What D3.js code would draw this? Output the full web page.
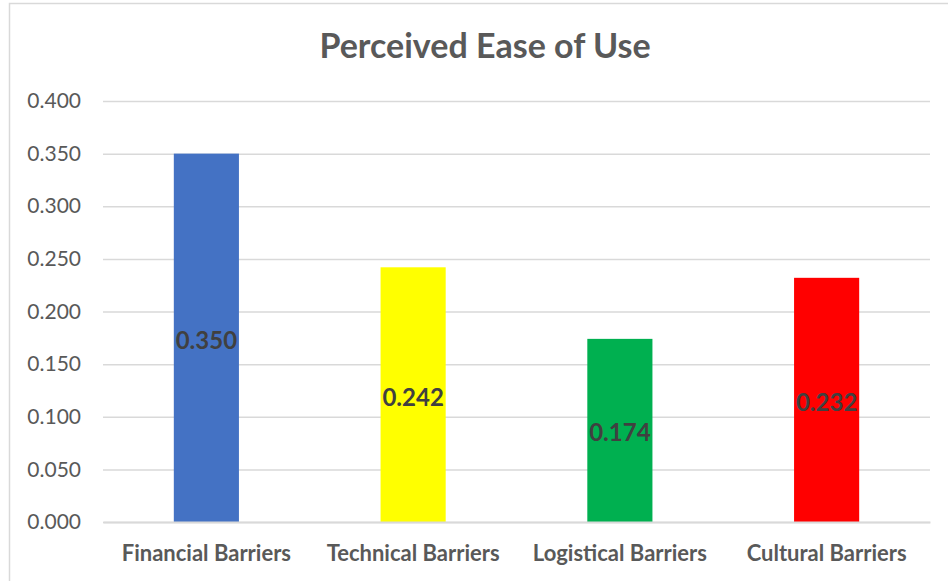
<!DOCTYPE html>
<html>
<head>
<meta charset="utf-8">
<script src="https://cdn.jsdelivr.net/npm/d3@7"></script>
<style>
  html, body { margin: 0; padding: 0; background: #ffffff; }
  svg { display: block; }
  text { font-family: Lato, "Open Sans", "Liberation Sans", sans-serif; }
</style>
</head>
<body>
<svg id="chart" width="948" height="581"></svg>
<script>
// Chart data
const title = "Perceived Ease of Use";
const categories = ["Financial Barriers", "Technical Barriers", "Logistical Barriers", "Cultural Barriers"];
const values = [0.350, 0.242, 0.174, 0.232];
const barColors = ["#4472C4", "#FFFF00", "#00B050", "#FF0000"];
const yTicks = [0, 0.05, 0.1, 0.15, 0.2, 0.25, 0.3, 0.35, 0.4];

const svg = d3.select("#chart");
const W = 948, H = 581;
const plot = { left: 103, right: 930, top: 101, bottom: 522 };

// Chart area frame (top and left edges visible)
svg.append("rect")
  .attr("x", 9.5).attr("y", 3.5)
  .attr("width", W + 20).attr("height", H + 20)
  .attr("fill", "#ffffff")
  .attr("stroke", "#d9d9d9").attr("stroke-width", 1.5);

const x = d3.scaleBand()
  .domain(categories)
  .range([plot.left, plot.right])
  .paddingInner(0.685)
  .paddingOuter(0.3425);

const y = d3.scaleLinear()
  .domain([0, 0.4])
  .range([plot.bottom, plot.top]);

// Horizontal gridlines and value axis labels
const yAxis = d3.axisLeft(y)
  .tickValues(yTicks)
  .tickFormat(d3.format(".3f"))
  .tickSize(-(plot.right - plot.left))
  .tickPadding(22);

const gy = svg.append("g")
  .attr("transform", `translate(${plot.left},0)`)
  .call(yAxis);
gy.select(".domain").remove();
gy.selectAll(".tick line")
  .attr("stroke", "#d9d9d9")
  .attr("stroke-width", 1.5);
gy.selectAll(".tick text")
  .attr("fill", "#595959")
  .style("font-size", "21px")
  .style("font-family", "Lato, 'Open Sans', sans-serif");

// Bars
svg.append("g").selectAll("rect")
  .data(values)
  .join("rect")
  .attr("x", (d, i) => x(categories[i]))
  .attr("y", d => y(d))
  .attr("width", x.bandwidth())
  .attr("height", d => y(0) - y(d))
  .attr("fill", (d, i) => barColors[i]);

// Category axis
const xAxis = d3.axisBottom(x).tickSize(0).tickPadding(23);
const gx = svg.append("g")
  .attr("transform", `translate(0,${plot.bottom})`)
  .call(xAxis);
gx.select(".domain")
  .attr("stroke", "#d9d9d9")
  .attr("stroke-width", 2);
gx.selectAll(".tick text")
  .attr("fill", "#595959")
  .style("font-size", "22px")
  .style("font-weight", "bold")
  .style("font-family", "Lato, 'Open Sans', sans-serif");

// Value labels centred in each bar
svg.append("g").selectAll("text")
  .data(values)
  .join("text")
  .attr("x", (d, i) => x(categories[i]) + x.bandwidth() / 2)
  .attr("y", d => (y(d) + y(0)) / 2)
  .attr("dy", "0.46em")
  .attr("text-anchor", "middle")
  .attr("fill", "#404040")
  .style("font-size", "24px")
  .style("font-weight", "bold")
  .text(d => d3.format(".3f")(d));

// Title
svg.append("text")
  .attr("x", 485)
  .attr("y", 58)
  .attr("text-anchor", "middle")
  .attr("fill", "#595959")
  .style("font-size", "34px")
  .style("font-weight", "bold")
  .text(title);
</script>
</body>
</html>
